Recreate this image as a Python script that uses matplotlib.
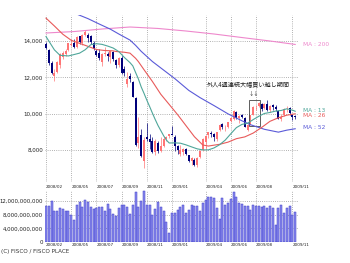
import matplotlib
matplotlib.use("Agg")
import matplotlib.pyplot as plt
from matplotlib.patches import Rectangle
from matplotlib.ticker import FuncFormatter

# weekly candles, 2008/02 (last week of Feb) to 2009/11
opens = [13850, 13500, 12800, 12100, 12300, 12700, 13100, 13300, 13500, 13800,
         13900, 13650, 14250, 13900, 14350, 14350, 14250, 13900, 13450, 13350,
         12850, 13300, 13300, 13100, 13400, 12950, 12700, 13050, 12450, 11650,
         12100, 11750, 10850, 8400, 8800, 7400, 8700, 8600, 8500, 7900,
         8400, 7950, 8200, 8600, 8750, 8900, 8700, 8200, 7800, 7900,
         8050, 7700, 7400, 7450, 7150, 7600, 8000, 8450, 8800, 8950,
         8900, 8600, 9100, 9450, 9200, 9250, 9600, 9700, 10100, 9750,
         9900, 9750, 9100, 9450, 9950, 10400, 10400, 10550, 10300, 10550,
         10200, 10450, 10350, 10150, 9700, 9900, 10250, 10300, 9900, 9850]
highs = [13950, 13550, 12900, 12450, 12900, 13350, 13450, 13550, 13900, 14100,
         14100, 14250, 14300, 14400, 14600, 14450, 14350, 14000, 13550, 13550,
         13350, 13650, 13400, 13450, 13450, 13000, 13100, 13200, 12650, 12300,
         12250, 11800, 10900, 9800, 9150, 8700, 9500, 8900, 8700, 8600,
         8500, 8700, 8700, 8750, 8900, 9325, 8800, 8300, 8250, 8100,
         8100, 7750, 7600, 7550, 7600, 8000, 8650, 8800, 9000, 9050,
         8950, 9000, 9450, 9500, 9400, 9550, 9800, 10200, 10150, 9950,
         10000, 9800, 9450, 9950, 10400, 10500, 10650, 10600, 10600, 10750,
         10450, 10550, 10450, 10200, 10000, 10300, 10400, 10350, 10000, 9950]
lows = [13550, 12700, 12200, 11787, 12250, 12500, 13000, 13150, 13450, 13700,
        13600, 13600, 13850, 13800, 14250, 13950, 13850, 13500, 13200, 12950,
        12650, 13200, 12900, 12800, 12900, 12500, 12550, 12200, 12100, 11450,
        11750, 10900, 8200, 8100, 7600, 6994, 8500, 8050, 7850, 7750,
        7850, 7900, 8150, 8500, 8650, 8800, 7950, 7800, 7650, 7700,
        7700, 7350, 7160, 7100, 7054, 7550, 7950, 8050, 8650, 8700,
        8500, 8500, 9050, 9150, 9050, 9200, 9550, 9650, 9700, 9500,
        9750, 9250, 9050, 9400, 9900, 10200, 10350, 10150, 10250, 10150,
        10100, 10200, 10150, 9700, 9600, 9850, 10100, 9950, 9650, 9700]
closes = [13603, 12782, 12241, 12260, 12820, 13293, 13323, 13476, 13863, 13849,
          13655, 14219, 13937, 14338, 14489, 14181, 13942, 13544, 13237, 13039,
          13300, 13334, 13168, 13431, 13019, 12666, 13072, 12212, 12214, 11920,
          11893, 10938, 8276, 8693, 7649, 8576, 8583, 8462, 7910, 8512,
          7917, 8235, 8588, 8739, 8860, 8836, 8230, 7990, 7994, 8076,
          7779, 7416, 7568, 7173, 7569, 7945, 8626, 8749, 8964, 8907,
          8707, 8977, 9385, 9265, 9225, 9522, 9768, 10135, 9786, 9877,
          9816, 9287, 9395, 9944, 10357, 10412, 10597, 10238, 10534, 10187,
          10444, 10370, 10265, 9731, 9799, 10257, 10282, 10034, 9789, 9804]

# weekly turnover, billions of yen
volume_bn = [10.5, 10.5, 12.1, 9.1, 9.1, 9.9, 9.6, 9.0, 9.1, 7.9,
             6.4, 10.8, 11.8, 10.3, 12.4, 11.8, 10.1, 9.6, 10.0, 10.3,
             10.3, 9.0, 11.0, 9.6, 8.3, 7.7, 9.9, 10.8, 10.8, 10.1,
             8.3, 10.8, 14.6, 10.3, 12.1, 14.9, 10.8, 10.8, 8.0, 9.6,
             11.7, 10.1, 9.0, 5.9, 2.7, 8.4, 8.4, 9.4, 10.3, 10.8,
             8.4, 9.4, 10.8, 10.5, 10.5, 9.2, 11.5, 12.3, 13.1, 13.1,
             12.8, 9.8, 6.6, 12.8, 10.8, 11.3, 12.5, 14.7, 13.1, 11.5,
             11.1, 10.5, 10.5, 9.4, 10.8, 10.5, 10.5, 10.1, 10.5, 9.8,
             10.5, 9.8, 5.0, 9.8, 10.8, 8.6, 9.8, 10.5, 7.9, 8.9]

# moving averages (week index, price)
ma13_wk = [0, 3, 5, 8, 10, 12, 14, 16, 18, 20, 22, 24, 26, 28, 30, 31, 32, 33,
           34, 35, 36, 37, 38, 39, 40, 42, 43, 44, 46, 48, 50, 52, 54, 56, 58,
           60, 62, 64, 66, 68, 70, 72, 74, 76, 78, 80, 82, 84, 86, 88, 89]
ma13 = [14246, 13511, 13212, 13177, 13253, 13332, 13520, 13799, 13850, 13815,
        13722, 13612, 13417, 13091, 12808, 12631, 12265, 11910, 11473, 11120,
        10747, 10396, 10031, 9680, 9350, 8787, 8545, 8385, 8392, 8374,
        8282, 8171, 8063, 8005, 8006, 8113, 8290, 8543, 8893, 9232,
        9410, 9473, 9674, 9855, 10011, 10067, 10142, 10175, 10267, 10194, 10133]
ma26_wk = [0, 3, 6, 9, 12, 15, 18, 21, 24, 25, 28, 30, 32, 33, 35, 38, 41, 44,
           47, 50, 53, 56, 58, 60, 62, 65, 68, 71, 74, 77, 80, 83, 86, 89]
ma26 = [15259, 14825, 14373, 14040, 13869, 13705, 13531, 13475, 13456, 13423,
        13380, 13331, 13047, 12863, 12421, 11772, 11067, 10508, 9946, 9339,
        8732, 8275, 8217, 8266, 8312, 8432, 8623, 8721, 8931, 9238,
        9579, 9773, 9917, 9994]
ma52_wk = [11, 15, 19, 23, 26, 30, 32, 34, 38, 42, 46, 51, 55, 60, 65, 70, 73,
           78, 83, 86, 89]
ma52 = [15480, 15230, 14935, 14650, 14385, 14050, 13760, 13430, 12870, 12400,
        11930, 11280, 10884, 10445, 9990, 9606, 9393, 9139, 8982, 9092, 9169]
ma200_wk = [0, 10, 20, 30, 40, 50, 60, 70, 80, 89]
ma200 = [14440, 14520, 14660, 14770, 14690, 14550, 14385, 14190, 14000, 13810]

tick_wk = [0, 9, 18, 27, 36, 45, 57, 66, 75, 88]
tick_lbl = ["2008/02", "2008/05", "2008/07", "2008/09", "2008/11",
            "2009/01", "2009/04", "2009/06", "2009/08", "2009/11"]

# weeks of heavy foreign buying (boxed)
box_wk = (72.5, 76.5)
box_px = (9300, 10750)

UP = "#ff7575"
DOWN = "#00007a"
GRID = dict(color="#999999", lw=0.6, ls=(0, (1, 1.6)))
W, H = 350, 263

fig = plt.figure(figsize=(3.5, 2.63), dpi=100)
fig.patch.set_facecolor("white")

def box(l, t, r, b):
    return [l / W, 1 - b / H, (r - l) / W, (b - t) / H]

ax = fig.add_axes(box(45, 15, 299, 182))
axv = fig.add_axes(box(45, 190, 299, 242))

n = len(closes)
weeks = list(range(n))

for a in (ax, axv):
    for s in a.spines.values():
        s.set_visible(False)
    a.set_xlim(-0.36, 90.36)
    a.set_xticks(tick_wk)
    a.grid(True, **GRID)
    a.set_axisbelow(True)
    a.tick_params(length=0, labelsize=3.0, colors="#222222")

# candles
for i in weeks:
    col = UP if closes[i] >= opens[i] else DOWN
    ax.vlines(i, lows[i], highs[i], color=col, lw=0.5)
    lo, hi = sorted((opens[i], closes[i]))
    ax.bar(i, max(hi - lo, 15), bottom=lo, width=0.72, color=col, lw=0)

ax.plot(ma200_wk, ma200, color="#ee88cc", lw=0.8)
ax.plot(ma52_wk, ma52, color="#5a5ad8", lw=0.8)
ax.plot(ma26_wk, ma26, color="#e85a5a", lw=0.8)
ax.plot(ma13_wk, ma13, color="#4fa69a", lw=0.8)

ax.add_patch(Rectangle((box_wk[0], box_px[0]), box_wk[1] - box_wk[0],
                       box_px[1] - box_px[0], fill=False, ec="#444444", lw=0.6))

ax.set_ylim(6238, 15431)
ax.set_yticks([8000, 10000, 12000, 14000])
ax.yaxis.set_major_formatter(FuncFormatter(lambda v, p: f"{int(v):,}"))
ax.tick_params(axis="y", labelsize=4.0, pad=1.5)
ax.set_xticklabels(tick_lbl, ha="left")
ax.tick_params(axis="x", pad=1.8)

# volume
axv.bar(weeks, [v * 1e9 for v in volume_bn], width=0.78,
        color="#8a8aee", edgecolor="#3d3dc8", lw=0.35)
axv.set_ylim(0, 15.2e9)
axv.set_yticks([0, 4e9, 8e9, 12e9])
axv.yaxis.set_major_formatter(FuncFormatter(lambda v, p: f"{int(v):,}"))
axv.tick_params(axis="y", labelsize=3.9, pad=1.5)
axv.set_xticklabels(tick_lbl, ha="left")
axv.tick_params(axis="x", pad=0.6)

# labels
def ftext(x, y, s, **kw):
    fig.text(x / W, 1 - y / H, s, va="center", **kw)

ftext(303, 45, "MA : 200", color="#ee88cc", fontsize=4.2)
ftext(303, 110, "MA : 13", color="#4fa69a", fontsize=4.2)
ftext(303, 115, "MA : 26", color="#e85a5a", fontsize=4.2)
ftext(303, 128, "MA : 52", color="#5a5ad8", fontsize=4.2)

cjk = ["Noto Sans CJK JP", "DejaVu Sans"]
ftext(248, 84, "外人4週連続大幅買い越し期間", ha="center", fontsize=4.4,
      family=cjk, color="#222222")
ftext(254, 92.5, "↓↓", ha="center", fontsize=3.8, family=cjk, color="#222222")
ftext(1, 251, "(C) FISCO / FISCO PLACE", ha="left", fontsize=4.1, color="#333333")

fig.savefig("out.png", dpi=100)
